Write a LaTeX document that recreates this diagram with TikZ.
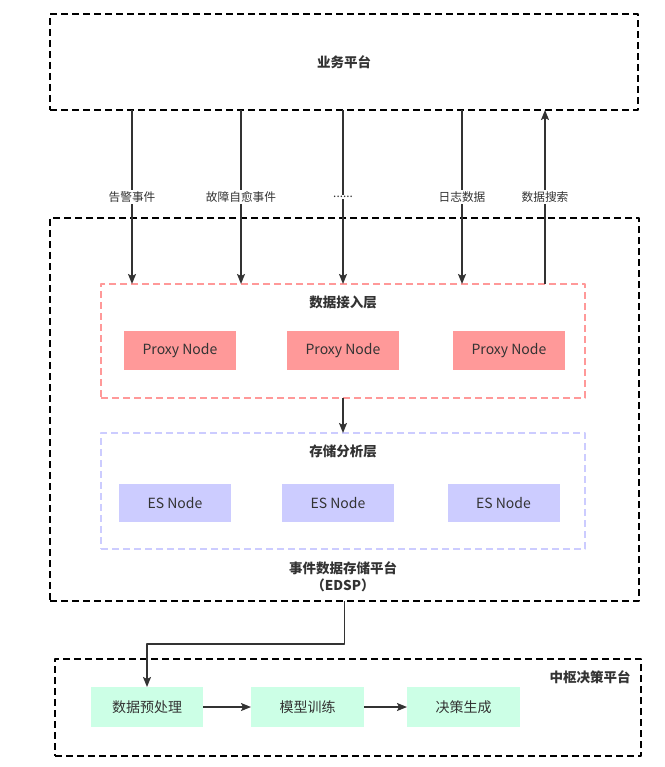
\documentclass[tikz,border=0pt]{standalone}
\usepackage{fontspec}
\setmainfont{Noto Sans CJK SC}
\usetikzlibrary{arrows.meta}
\definecolor{txtgray}{HTML}{333333}
\definecolor{proxyred}{HTML}{FF9999}
\definecolor{eslilac}{HTML}{CCCCFF}
\definecolor{stepgreen}{HTML}{CCFFE6}
\newcommand\moredots{......}
\begin{document}
\begin{tikzpicture}[x=1pt,y=-1pt,>={Stealth[length=10pt,width=8pt,inset=2pt]}, line join=round, font=\fontsize{14}{17}\selectfont, text=txtgray]
    \tikzset{plat/.style={draw=black, line width=1.6pt, dash pattern=on 7pt off 4pt, inner sep=0pt, outer sep=0pt},
             layer/.style={line width=1.3pt, dash pattern=on 7pt off 4pt, minimum width=484, inner sep=0pt, outer sep=0pt},
             unit/.style={minimum width=112, minimum height=39, inner sep=0pt, outer sep=0pt},
             flow/.style={draw=txtgray, line width=1.5pt},
             lbl/.style={fill=white, inner sep=1.5pt, font=\fontsize{11.7}{14}\selectfont},
             head/.style={font=\fontsize{13.5}{17}\selectfont\bfseries}}
    \useasboundingbox (0,0) rectangle (664,767);
    % platforms
    \node[plat, minimum width=588, minimum height=96, head] (biz) at (344,62) {业务平台};
    \node[plat, minimum width=589, minimum height=383] (edsp) at (344.5,409.5) {};
    \node[head, align=center] (edspname) at (343,577) {事件数据存储平台\\（EDSP）};
    \node[plat, minimum width=586, minimum height=97] (hub) at (348,707.5) {};
    \node[head] (hubname) at (590,677) {中枢决策平台};
    % layers
    \node[layer, draw=proxyred, minimum height=114] (access) at (343,341) {};
    \node[head] (accessname) at (343,302) {数据接入层};
    \node[layer, draw=eslilac, minimum height=116] (store) at (343,491) {};
    \node[head] (storename) at (343,451) {存储分析层};
    \foreach \i/\px in {1/180,2/343,3/509}
        \node[unit, fill=proxyred] (proxy\i) at (\px,350.5) {Proxy Node};
    \foreach \i/\px in {1/175,2/338,3/503.5}
        \node[unit, fill=eslilac, minimum height=38] (es\i) at (\px,503) {ES Node};
    \node[unit, fill=stepgreen, minimum height=40] (prep) at (147,707) {数据预处理};
    \node[unit, fill=stepgreen, minimum height=40, minimum width=113] (train) at (307.5,707) {模型训练};
    \node[unit, fill=stepgreen, minimum height=40, minimum width=113] (decide) at (463.5,707) {决策生成};
    % connectors
    \foreach \px/\txt in {132/告警事件, 241/故障自愈事件, 343/\moredots, 462/日志数据}{
        \coordinate (c) at (\px,0);
        \draw[->, flow] (biz.south -| c) -- node[lbl]{\txt} (access.north -| c);
    }
    \coordinate (s) at (545,0);
    \draw[->, flow] (access.north -| s) -- node[lbl]{数据搜索} (biz.south -| s);
    \draw[->, flow] (access.south) -- (store.north);
    \draw[->, flow] (edsp.south) -- ++(0,43) -| (prep.north);
    \draw[->, flow] (prep) -- (train);
    \draw[->, flow] (train) -- (decide);
\end{tikzpicture}
\end{document}
